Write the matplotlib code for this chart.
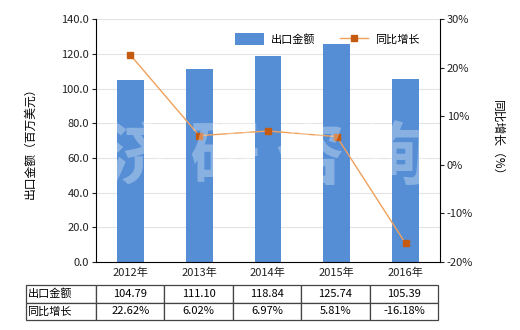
import matplotlib
matplotlib.use("Agg")
import matplotlib.pyplot as plt
from matplotlib.ticker import FuncFormatter

plt.rcParams['font.family'] = ['Noto Sans CJK SC', 'DejaVu Sans']

years = ["2012年", "2013年", "2014年", "2015年", "2016年"]
export_value = [104.79, 111.10, 118.84, 125.74, 105.39]
yoy_growth = [22.62, 6.02, 6.97, 5.81, -16.18]
bar_name = "出口金额"
line_name = "同比增长"

BAR_COLOR = "#558ED5"
LINE_COLOR = "#F0A05A"
MARK_COLOR = "#C55A11"
TEXT_COLOR = "#222222"

fig = plt.figure(figsize=(5.2, 3.3), dpi=100)
ax = fig.add_axes([0.1846, 0.206, 0.6615, 0.736])
x = list(range(len(years)))

bars = ax.bar(x, export_value, width=0.39, color=BAR_COLOR, zorder=2, label=bar_name)
ax.set_xlim(-0.5, len(years) - 0.5)
ax.set_ylim(0, 140)
ax.set_yticks(range(0, 141, 20))
ax.yaxis.set_major_formatter(FuncFormatter(lambda v, p: f"{v:.1f}"))
ax.set_xticks(x)
ax.set_xticklabels(years)
ax.grid(axis="y", color="#E3E3E3", linewidth=0.8, zorder=0)
ax.set_axisbelow(True)
for s in ["top", "right"]:
    ax.spines[s].set_visible(False)
ax.tick_params(labelsize=8, length=3, pad=2, colors=TEXT_COLOR)
ax.tick_params(axis="x", length=0, pad=4)
ax.set_ylabel("出口金额（百万美元）", fontsize=8.5, labelpad=18)

ax2 = ax.twinx()
line, = ax2.plot(x, yoy_growth, color=LINE_COLOR, linewidth=1.0, marker="s",
                 markersize=4.5, markerfacecolor=MARK_COLOR,
                 markeredgecolor=MARK_COLOR, zorder=3, label=line_name)
ax2.set_ylim(-20, 30)
ax2.set_yticks(range(-20, 31, 10))
ax2.yaxis.set_major_formatter(FuncFormatter(lambda v, p: f"{v:.0f}%"))
for s in ["top", "left"]:
    ax2.spines[s].set_visible(False)
ax2.spines["bottom"].set_visible(False)
ax2.tick_params(labelsize=8, length=3, pad=2, colors=TEXT_COLOR)
ax2.set_ylabel("同比增长（%）", fontsize=8.5, rotation=-90, labelpad=22)

# watermark
fig.text(0.515, 0.52, "济 研 咨 询", fontsize=50, color="white", alpha=0.3,
         ha="center", va="center", fontweight="bold", zorder=10)

ax2.legend([bars, line], [bar_name, line_name], loc="upper right",
           bbox_to_anchor=(0.97, 0.985), ncol=2, frameon=False, fontsize=8,
           handlelength=2.6, handleheight=1.3, columnspacing=2.2,
           handletextpad=0.6)

cell_text = [[bar_name] + [f"{v:.2f}" for v in export_value],
             [line_name] + [f"{v:.2f}%" for v in yoy_growth]]
first_w = 70 / 412
col_w = [first_w] + [(1 - first_w) / 5] * 5
tbl = ax.table(cellText=cell_text, colWidths=col_w, cellLoc="center",
               bbox=[-0.2035, -0.2387, 1.198, 0.144])
tbl.auto_set_font_size(False)
tbl.set_fontsize(8)
for (r, c), cell in tbl.get_celld().items():
    cell.set_edgecolor("#444444")
    cell.set_linewidth(0.9)
    if c == 0:
        cell.get_text().set_ha("left")
        cell.PAD = 0.02

fig.savefig("out.png", dpi=100)
